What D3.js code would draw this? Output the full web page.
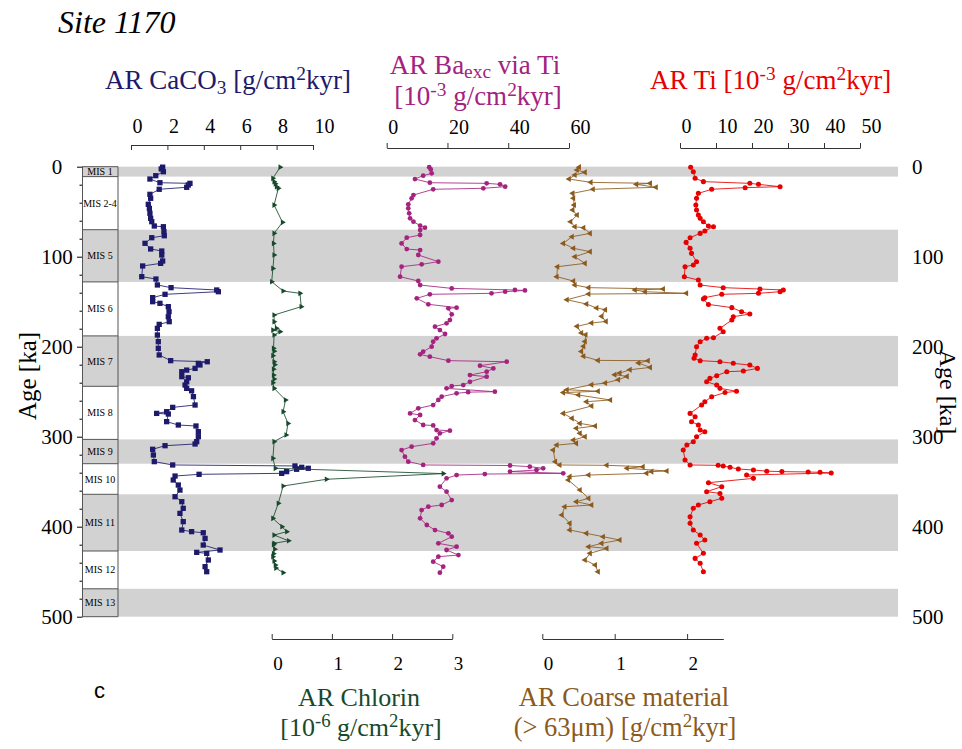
<!DOCTYPE html>
<html>
<head>
<meta charset="utf-8">
<script src="https://cdnjs.cloudflare.com/ajax/libs/d3/7.8.5/d3.min.js"></script>
<style>
  body { margin: 0; background: #fff; }
  svg text { font-family: "Liberation Serif", "Times New Roman", serif; }
</style>
</head>
<body>
<svg id="chart" width="962" height="749"></svg>
<script>
// ---- data ----
var misNames = ["MIS 1", "MIS 2-4", "MIS 5", "MIS 6", "MIS 7", "MIS 8", "MIS 9", "MIS 10", "MIS 11", "MIS 12", "MIS 13"];
var misTop = [0, 11, 70, 128, 188, 244, 303, 330, 364, 427, 469];
var misBottom = [11, 70, 128, 188, 244, 303, 330, 364, 427, 469, 500];

var ageTicks = [0, 100, 200, 300, 400, 500];
var caTicks = [0, 2, 4, 6, 8, 10];
var baTicks = [0, 20, 40, 60];
var tiTicks = [0, 10, 20, 30, 40, 50];
var chlTicks = [0, 1, 2, 3];
var coTicks = [0, 1, 2];

var caAge = [0.5,2.5,5.6,10,13.7,17.8,18.5,20.3,22.9,25.1,30.7,35.1,41.8,46.3,51.8,57.4,61.1,65.9,66.7,72.2,76.7,78.9,85.1,91.4,93.7,98.1,104.8,107.4,110.3,122.2,124.8,131.4,134.4,137,138.9,141.8,145.5,150,151.8,155.5,161.1,166.7,172.2,175.2,179.6,187,194.4,201.8,209.2,215.5,216.7,218.5,220.3,224.1,226,227.8,233.3,234.5,239,242.6,246.3,249,255.5,264.8,267.4,272.2,274.1,274.8,283.3,287,288.1,294.4,300,305.5,308.1,310,314,320.3,327.7,331.4,332.5,334,335.1,336.2,338.8,340.7,341.8,343.7,348.1,353.7,359.3,366.7,372.2,379.6,385.2,394.4,403.7,405.5,406.7,413,420.4,425.9,428.5,429.6,437,444.4,450];
var caVal = [1.74,1.66,1.78,1.36,1.04,1.59,3.24,3.15,3.06,1.55,1.04,1.08,0.95,1.01,1.04,1.08,1.14,1.28,1.78,1.81,1.83,1.14,0.77,1.08,1.69,1.69,1.74,1.63,0.64,0.59,1.37,1.45,2.20,4.71,4.80,1.87,1.19,1.19,1.59,2.05,2.09,2.05,2.10,1.55,1.45,1.45,1.50,1.50,1.55,2.18,4.19,3.70,3.79,3.52,3.06,2.79,2.79,3.15,3.06,2.97,3.06,3.33,3.43,3.52,2.29,1.96,1.41,2.05,1.96,2.60,3.57,3.70,3.70,3.61,3.52,1.87,1.19,1.23,1.28,2.29,9.01,9.38,9.74,9.10,8.55,8.28,3.74,2.42,2.32,2.60,2.69,2.42,2.79,2.87,2.69,2.87,2.79,3.33,3.97,4.07,3.97,4.89,3.61,4.16,4.25,4.07,4.16];

var chlAge = [0.5,12.9,16.6,19,22.2,24,42.6,61.8,74,85.2,98.1,113,127.8,138.1,140.7,155.5,164.8,172.2,179.6,181.5,183.3,187,201.8,205,210,216.7,220,225,231.5,236,240,246.3,259.2,272.2,285.2,298.1,305.5,324,335.1,341,347.3,354.8,374,390.7,400,405.5,409.3,415.6,418.5,420,425,430,433.3,438,442.6,446,451.1];
var chlVal = [0.14,0.02,0.04,0.06,0.08,0.11,0.04,0.18,0.04,0.03,0.04,0.02,0.00,0.19,0.47,0.49,0.04,0.04,0.08,0.02,0.14,0.04,0.03,0.04,0.02,0.04,0.05,0.03,0.03,0.04,0.02,0.04,0.23,0.19,0.27,0.24,0.04,0.02,0.06,2.85,0.91,0.19,0.11,0.02,0.17,0.25,0.04,0.28,0.04,0.03,0.05,0.03,0.02,0.04,0.06,0.07,0.19];

var baAge = [0.5,3,7.4,10,13.7,17.8,18.5,19.6,22.2,24,25.1,31.5,35.1,41.8,46.3,51.8,57.4,61.1,65.5,67.8,70.4,75.9,78.9,85.2,91.5,92.6,98.1,105.5,108.5,111.1,122.2,127,131.5,135.2,137,137.5,138.9,140.7,141.8,146.3,152.9,156.6,157.4,164,170.4,174,177.8,181.5,185.9,190.7,194.4,200,205.5,208.5,211.1,215.5,216.7,221.1,224.1,227.8,231.5,233.3,239,242.6,243.7,246.3,250,250.5,251.8,255.5,259.2,264.8,268.5,274.1,275.9,281.5,287,287.5,292.6,293.3,296.3,301.8,307.4,311.1,314.8,322.2,327.7,331.4,332,333.3,335.1,337,338.8,340.7,341.5,342.6,346.3,355.5,361.1,370.4,375.9,377.8,381.5,390.7,398.1,403.7,407.4,411.1,418.5,422.2,425.9,431.5,433.3,438.9,444.4,451.1];
var baVal = [14.0,14.5,14.8,12.0,9.3,14.2,32.9,37.3,39.0,31.8,15.3,8.8,8.2,7.1,7.1,7.4,7.7,8.8,11.0,12.6,11.0,11.0,6.6,4.9,6.6,11.0,10.4,17.0,11.5,4.9,4.4,10.4,11.0,21.4,42.2,45.5,39.0,34.5,14.2,9.9,13.7,23.0,20.3,21.4,20.8,19.7,15.9,17.5,19.2,16.4,15.3,14.8,12.0,11.0,14.2,20.3,39.5,30.7,35.1,32.9,27.4,32.9,27.4,25.2,21.4,19.7,35.6,26.8,23.0,18.1,17.0,15.3,10.4,7.7,11.0,9.3,12.0,15.3,16.4,20.8,17.5,16.4,15.3,8.2,4.9,6.0,7.1,12.0,40.6,47.1,51.5,49.3,40.6,58.1,32.3,23.0,19.7,17.5,19.7,21.4,18.1,13.7,11.5,11.0,13.2,15.9,20.3,21.4,17.0,23.0,19.7,23.6,17.0,15.3,18.6,17.5];

var coAge = [0.5,3.7,6.3,9.2,13.7,17.4,18.5,19.6,22.9,25.1,29.6,35.1,42.6,48.1,53.7,61.1,66.7,67.8,74.1,77.8,85.2,90.7,94.4,100,107.4,111.1,122.2,127,131.5,134.4,135.9,137,138.9,140.7,141.5,147.8,152.6,157,158.9,166.3,171.9,173.7,177.4,184.8,186.7,194.1,199.6,205.2,210.7,215.2,215.6,218.1,223,225.6,229.3,231.1,233,236.7,240.4,242.2,247.8,249.5,251,253.7,259.2,261.1,265.9,274.1,279.6,285.2,288.1,290.7,296.3,300,303.7,307.4,309.3,314.8,327.7,331.4,331.8,333.3,335.1,338.1,338.8,340.7,342.6,344.4,348.1,359.3,368.5,372.2,375.9,377.8,387,396.3,403.7,407.4,411.1,414.8,418.5,422.2,424.1,429.6,437,442.6,450];
var coVal = [0.51,0.48,0.59,0.45,0.37,0.67,1.49,1.30,1.57,0.70,0.42,0.43,0.44,0.42,0.48,0.39,0.45,0.57,0.66,0.41,0.29,0.43,0.66,0.45,0.59,0.21,0.20,0.43,0.45,0.64,1.67,1.28,1.42,1.99,0.64,0.34,0.61,0.75,0.87,0.82,0.88,0.68,0.48,0.54,0.60,0.59,0.57,0.54,0.57,0.77,1.46,1.33,1.49,1.21,1.07,1.00,1.17,1.05,0.87,0.68,0.34,0.77,0.29,0.50,0.94,0.61,0.68,0.29,0.41,0.52,0.73,0.47,0.52,0.59,0.43,0.47,0.20,0.15,0.18,0.24,0.89,1.39,1.17,1.72,1.51,1.44,0.64,0.38,0.36,0.52,0.64,0.47,0.68,0.31,0.27,0.38,0.38,0.61,0.84,1.07,0.82,0.64,0.89,0.66,0.59,0.73,0.77];

var tiAge = [0.5,5.5,12.9,16.6,18.5,19.6,22.2,23.3,25.1,29.6,35.1,42.6,48.1,53.7,57.4,61.1,65.9,66.7,71.5,74.1,78.9,84.1,90.7,96.3,105.5,109.2,111.1,122.2,125.9,131.5,134.4,135.9,137,138.9,140.7,141.8,145.5,147,153,156.6,161.1,163.7,166.7,170.4,179.6,183.3,190,190.7,194.4,200,209.2,212.9,215.5,216.7,218.5,220.4,224.1,227,227.8,232.2,235.2,238.9,242.6,246.3,249.5,251,255.5,261.1,264.8,274.1,277.8,283.3,287,292.6,294.4,300,305.5,309.3,314.8,325.9,331.4,331.8,332.5,334,335.9,337,338.3,338.8,339.2,339.6,340.3,342.6,346.3,351.1,355.5,361.1,363,368.5,372.2,375.9,379.6,388.9,396.3,403.7,409.3,414.8,418.5,429.6,435.2,440.7,450];
var tiVal = [2.96,3.7,4.2,6.5,19.4,21.8,27.8,18.1,8.8,5.1,4.6,4.4,4.6,5.1,5.6,6.5,7.9,9.3,6.9,5.6,2.8,1.7,2.8,3.2,4.6,3.7,1.4,1.2,5.1,5.6,12.0,22.2,28.7,27.8,21.8,11.6,6.9,6.5,7.9,14.4,17.1,19.4,14.8,14.4,11.1,12.0,9.3,7.4,5.6,4.6,4.2,3.9,5.6,11.1,14.8,19.4,21.5,17.6,13.0,10.2,8.3,7.4,10.2,11.1,15.7,12.5,8.8,6.9,6.0,2.8,4.2,3.2,5.1,5.6,6.9,4.6,3.7,1.9,0.9,1.4,2.8,10.6,12.0,13.9,16.2,20.4,24.1,28.3,35.6,38.9,42.0,18.5,20.4,7.9,11.6,7.4,11.1,11.6,8.3,5.1,3.7,2.8,2.8,3.7,5.6,6.9,4.6,6.5,4.2,5.6,6.5];

// ---- layout ----
var svg = d3.select("#chart");
var bandLeft = 82, boxRight = 118, bandRight = 898;

var y = d3.scaleLinear().domain([0, 500]).range([166.7, 616.7]);
var xCa = d3.scaleLinear().domain([0, 10]).range([131, 313]);
var xChl = d3.scaleLinear().domain([0, 3]).range([271.7, 452.3]);
var xBa = d3.scaleLinear().domain([0, 60]).range([386.7, 569]);
var xCo = d3.scaleLinear().domain([0, 2.5]).range([542.3, 723.3]);
var xTi = d3.scaleLinear().domain([0, 50]).range([680, 860]);

var navy = "#1e1a6b", green = "#174a2c", magenta = "#a3237f", brown = "#8b5a1c", red = "#e60000";

// MIS bands (odd stages shaded)
var mis = misNames.map(function(n, i) { return { name: n, top: misTop[i], bottom: misBottom[i], odd: i % 2 === 0 }; });
svg.selectAll("rect.band")
  .data(mis.filter(function(d) { return d.odd; }))
  .enter().append("rect")
  .attr("class", "band")
  .attr("x", bandLeft)
  .attr("y", function(d) { return y(d.top); })
  .attr("width", bandRight - bandLeft)
  .attr("height", function(d) { return y(d.bottom) - y(d.top); })
  .attr("fill", "#d2d2d2");

// MIS label box
var box = svg.append("g");
box.selectAll("line.sep")
  .data(misTop.concat([500]))
  .enter().append("line")
  .attr("x1", bandLeft).attr("x2", boxRight)
  .attr("y1", function(d) { return y(d); }).attr("y2", function(d) { return y(d); })
  .attr("stroke", "#555").attr("stroke-width", 1);
box.append("line").attr("x1", boxRight).attr("x2", boxRight).attr("y1", y(0)).attr("y2", y(500))
  .attr("stroke", "#555").attr("stroke-width", 1);
box.selectAll("text.mis")
  .data(mis)
  .enter().append("text")
  .attr("x", (bandLeft + boxRight) / 2)
  .attr("y", function(d) { return y((d.top + d.bottom) / 2); })
  .attr("dy", "0.35em")
  .attr("text-anchor", "middle")
  .style("font-size", "10px")
  .text(function(d) { return d.name; });

// Left age axis
var ageMinor = d3.range(0, 501, 20).filter(function(d) { return d % 100 !== 0; });
svg.append("g").attr("transform", "translate(" + bandLeft + ",0)")
  .call(d3.axisLeft(y).tickValues(ageMinor).tickSize(2.5).tickSizeOuter(0).tickFormat(""));
var leftAx = svg.append("g").attr("transform", "translate(" + bandLeft + ",0)")
  .call(d3.axisLeft(y).tickValues(ageTicks).tickSize(5).tickSizeOuter(0).tickFormat(d3.format("d")));
leftAx.select(".domain").attr("stroke", "#555");
leftAx.selectAll("text").attr("x", -25).attr("text-anchor", "middle").style("font-size", "21px").attr("fill", "#000");

// Right age axis (labels only)
var rightAx = svg.append("g").attr("transform", "translate(" + 912 + ",0)")
  .call(d3.axisRight(y).tickValues(ageTicks).tickSize(0).tickPadding(0).tickFormat(d3.format("d")));
rightAx.select(".domain").remove();
rightAx.selectAll("text").style("font-size", "21px").attr("fill", "#000");

// Axis titles "Age [ka]"
svg.append("text").attr("transform", "translate(27,376) rotate(-90)")
  .attr("text-anchor", "middle").attr("dy", "0.35em").style("font-size", "25px").text("Age [ka]");
svg.append("text").attr("transform", "translate(948,392) rotate(90)")
  .attr("text-anchor", "middle").attr("dy", "0.32em").style("font-size", "24px").text("Age [ka]");

// helper for a scale axis with minor ticks
function valueAxis(scale, yPos, step, majors, tickDown, tickUp, labelY, fontSize) {
  var minor = d3.range(scale.domain()[0], scale.domain()[1] + step / 2, step);
  var gen = tickDown ? d3.axisBottom : d3.axisTop;
  var g = svg.append("g").attr("transform", "translate(0," + yPos + ")");
  g.call(gen(scale).tickValues(minor).tickSize(3).tickSizeOuter(0).tickFormat(""));
  g.call(gen(scale).tickValues(majors).tickSize(5).tickSizeOuter(0).tickFormat(d3.format("d")));
  g.selectAll("path.domain").attr("stroke", "#333");
  g.selectAll(".tick line").attr("stroke", "#333");
  if (tickUp) g.selectAll(".tick line").attr("y2", function() { return -Math.abs(+d3.select(this).attr("y2")); });
  g.selectAll(".tick text")
    .attr("y", labelY).attr("dy", 0).attr("dx", 1)
    .attr("text-anchor", "start")
    .style("font-size", fontSize + "px").attr("fill", "#000");
  return g;
}
valueAxis(xCa, 145, 0.5, caTicks, true, false, -12, 20);
valueAxis(xBa, 148, 2, baTicks, false, true, -14, 20);
valueAxis(xTi, 148, 2, tiTicks, false, true, -15, 20);
valueAxis(xChl, 639, 0.1, chlTicks, true, true, 31, 19);
valueAxis(xCo, 639, 0.1, coTicks, true, true, 31, 19);

// rich text helper (sub/superscripts)
function richText(x, yy, parts, color, size, anchor, subShift) {
  var t = svg.append("text").attr("x", x).attr("y", yy)
    .attr("text-anchor", anchor || "start").attr("fill", color).style("font-size", size + "px");
  var prev = 0;
  parts.forEach(function(p) {
    var off = p[1] === "sup" ? -0.33 * size : p[1] === "sub" ? (subShift || 0.2) * size : 0;
    t.append("tspan").attr("dy", off - prev)
      .style("font-size", p[1] ? (0.72 * size) + "px" : null).text(p[0]);
    prev = off;
  });
  return t;
}

svg.append("text").attr("x", 58).attr("y", 33).style("font-size", "32px").style("font-style", "italic").text("Site 1170");

richText(105, 89, [["AR CaCO"], ["3", "sub"], [" [g/cm"], ["2", "sup"], ["kyr]"]], navy, 27);
richText(475, 74, [["AR Ba"], ["exc", "sub"], [" via Ti"]], magenta, 27, "middle", 0.16);
richText(478, 105, [["[10"], ["-3", "sup"], [" g/cm"], ["2", "sup"], ["kyr]"]], magenta, 27, "middle");
richText(650, 89, [["AR Ti [10"], ["-3", "sup"], [" g/cm"], ["2", "sup"], ["kyr]"]], red, 27);
richText(359, 706, [["AR Chlorin"]], green, 26, "middle");
richText(361, 736, [["[10"], ["-6", "sup"], [" g/cm"], ["2", "sup"], ["kyr]"]], green, 26, "middle");
richText(624, 706, [["AR Coarse material"]], brown, 26.5, "middle");
richText(625, 736, [["(> 63\u03bcm) [g/cm"], ["2", "sup"], ["kyr]"]], brown, 26.5, "middle");

svg.append("text").attr("x", 94).attr("y", 698).style("font-family", "Liberation Sans, Arial, sans-serif")
  .style("font-size", "22px").text("c");

// ---- series ----
function series(ages, vals, xs, color, symbol, size, rotate) {
  var pts = ages.map(function(a, i) { return { age: a, v: vals[i] }; });
  var line = d3.line().x(function(d) { return xs(d.v); }).y(function(d) { return y(d.age); });
  var g = svg.append("g");
  g.append("path").datum(pts).attr("d", line)
    .attr("fill", "none").attr("stroke", color).attr("stroke-width", 1).attr("stroke-opacity", 0.85);
  g.selectAll("path.m").data(pts).enter().append("path")
    .attr("class", "m")
    .attr("transform", function(d) { return "translate(" + xs(d.v) + "," + y(d.age) + ") rotate(" + rotate + ")"; })
    .attr("d", d3.symbol().type(symbol).size(size))
    .attr("fill", color);
}
series(caAge, caVal, xCa, navy, d3.symbolSquare, 28, 0);
series(chlAge, chlVal, xChl, green, d3.symbolTriangle, 14, 90);
series(baAge, baVal, xBa, magenta, d3.symbolCircle, 18, 0);
series(coAge, coVal, xCo, brown, d3.symbolTriangle, 16, -90);
series(tiAge, tiVal, xTi, red, d3.symbolCircle, 20, 0);
</script>
</body>
</html>
